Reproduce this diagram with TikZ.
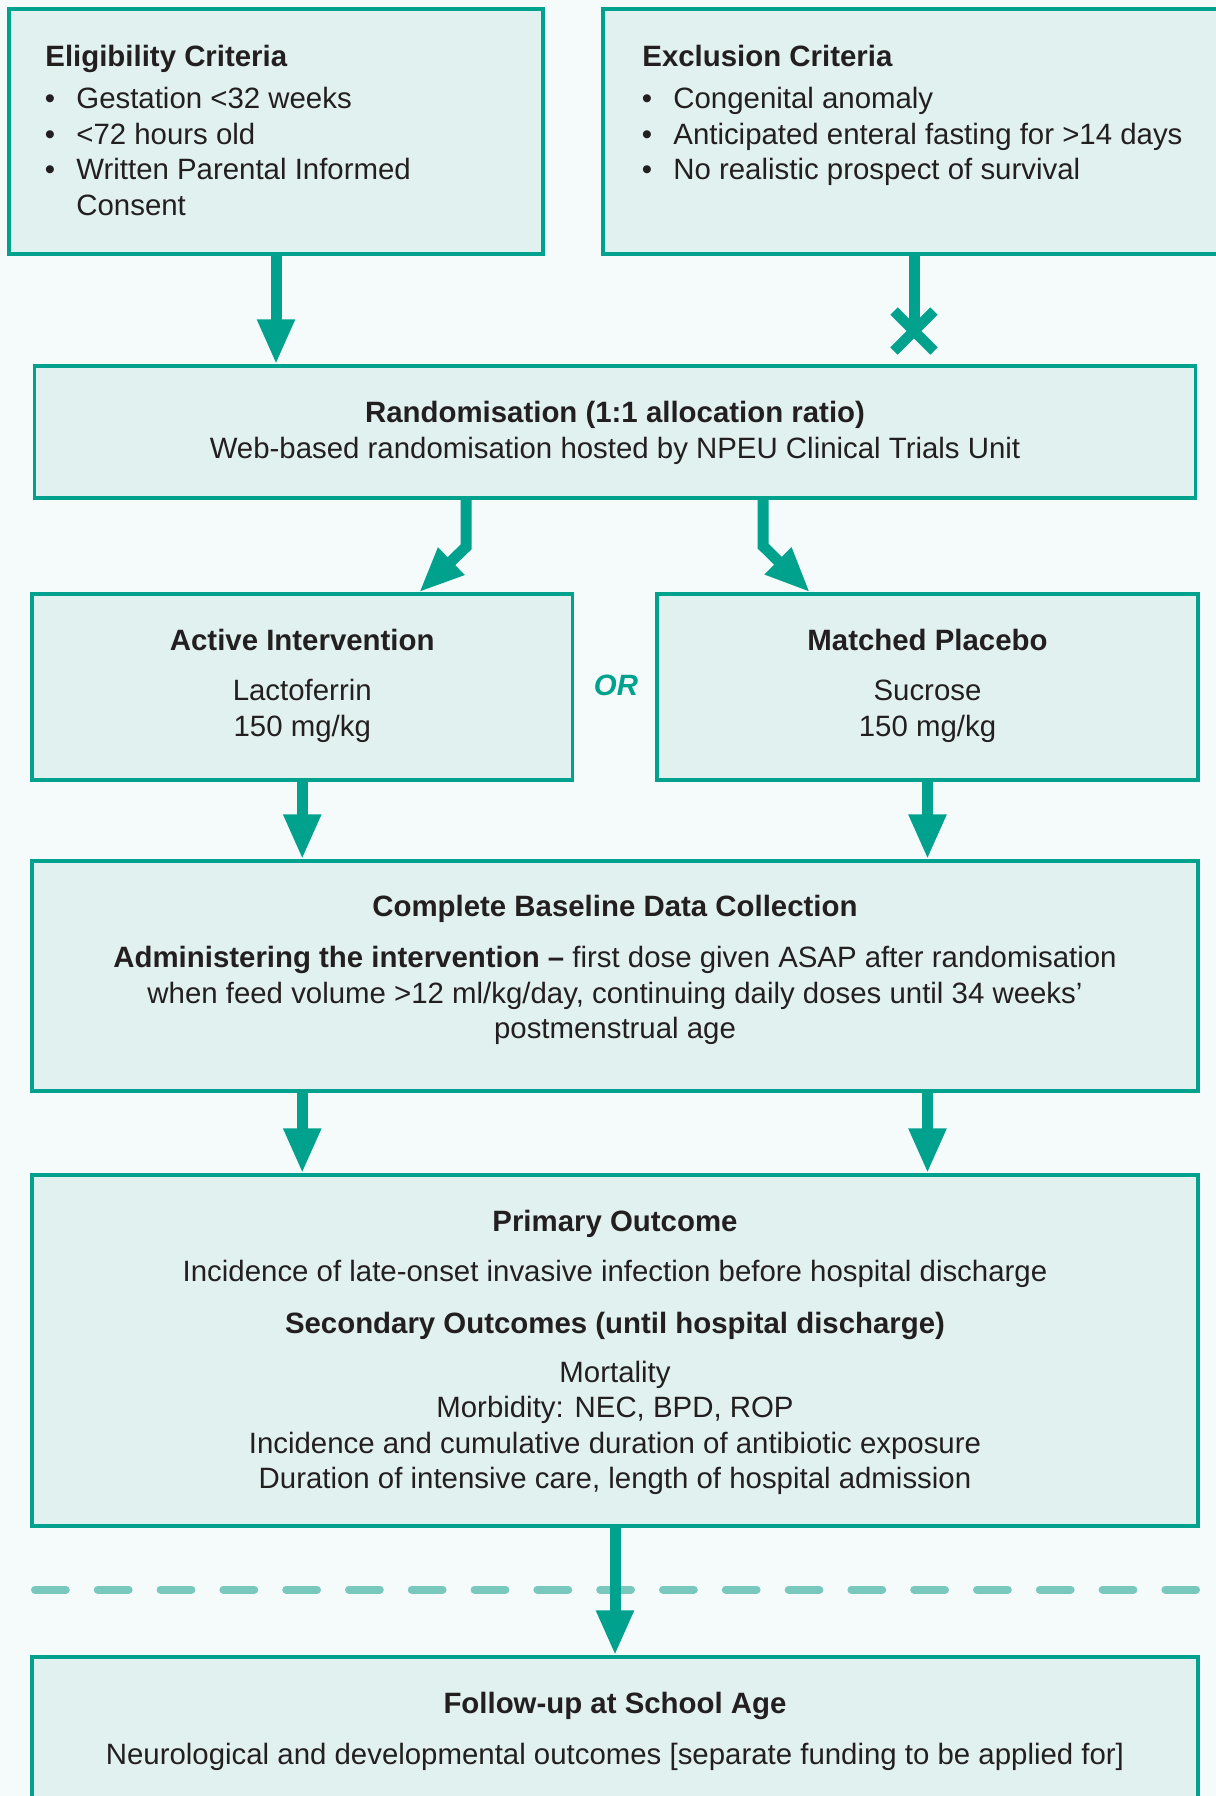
\documentclass[tikz,border=0pt]{standalone}
\usepackage{fontspec}
\setmainfont{Liberation Sans}
\usetikzlibrary{arrows.meta,calc}

\definecolor{npeuteal}{RGB}{0,162,142}
\definecolor{boxfill}{RGB}{225,241,239}
\definecolor{pagebg}{RGB}{245,251,251}
\definecolor{dashteal}{RGB}{120,200,190}
\definecolor{ink}{RGB}{35,31,32}

\begin{document}
\begin{tikzpicture}[
  x=0.5pt, y=-0.5pt,
  font={\fontsize{14.7}{17.75}\selectfont},
  stagebox/.style={draw=npeuteal, fill=boxfill, line width=1.65pt, inner sep=0pt},
  stagetext/.style={text=ink, inner sep=0pt, align=center, anchor=base},
  listtext/.style={text=ink, inner sep=0pt, anchor=base west},
  flowmap/.style={draw=npeuteal, line width=5.5pt, -{Triangle[length=22.5pt,width=17.5pt]}},
  blockmap/.style={draw=npeuteal, line width=5.5pt},
  crossmark/.style={draw=npeuteal, line width=5.2pt},
  cutline/.style={draw=dashteal, line width=4pt, line cap=round, dash pattern=on 15.4pt off 16pt}
]
  \useasboundingbox (0,0) rectangle (1216,1796);
  \fill[pagebg] (0,0) rectangle (1216,1796);

  \node[stagebox, minimum width=267pt, minimum height=122.5pt] (elig) at (276,131.5) {};
  \node[stagebox, minimum width=311pt, minimum height=122.5pt] (excl) at (914,131.5) {};
  \node[stagebox, minimum width=580.5pt, minimum height=66pt] (rand) at (615,432) {};
  \node[stagebox, minimum width=270.25pt, minimum height=93pt] (active) at (302.25,687) {};
  \node[stagebox, minimum width=270.5pt, minimum height=93pt] (placebo) at (927.5,687) {};
  \node[stagebox, minimum width=583pt, minimum height=115pt] (base) at (615,976) {};
  \node[stagebox, minimum width=583pt, minimum height=175.5pt] (outcome) at (615,1350.5) {};
  \node[stagebox, minimum width=583pt, minimum height=78pt] (followup) at (615,1735) {};

  \node[listtext] (eligtitle) at (45,66.5) {\textbf{Eligibility Criteria}};
  \node[listtext] (eligitems) at (44.5,108.5) {\begin{tabular}[t]{@{}l@{\hspace{10.6pt}}l@{}}
    • & Gestation <32 weeks\\
    • & <72 hours old\\
    • & Written Parental Informed\\
      & Consent
  \end{tabular}};
  \node[listtext] (excltitle) at (642,66.5) {\textbf{Exclusion Criteria}};
  \node[listtext] (exclitems) at (641.5,108.5) {\begin{tabular}[t]{@{}l@{\hspace{10.6pt}}l@{}}
    • & Congenital anomaly\\
    • & Anticipated enteral fasting for >14 days\\
    • & No realistic prospect of survival
  \end{tabular}};

  \node[stagetext] (randtext) at (615,458) {\textbf{Randomisation (1:1 allocation ratio)}\\Web-based randomisation hosted by NPEU Clinical Trials Unit};
  \node[stagetext] (activetext) at (302.25,736.2) {\textbf{Active Intervention}\\[7.5pt]Lactoferrin\\150 mg/kg};
  \node[stagetext] (placebotext) at (927.5,736.2) {\textbf{Matched Placebo}\\[7.5pt]Sucrose\\150 mg/kg};
  \node[text=npeuteal, inner sep=0pt, font={\fontsize{14.7}{17.75}\selectfont\bfseries\itshape}] (ortag) at (616,685) {OR};
  \node[stagetext] (basetext) at (615,1038.5) {\textbf{Complete Baseline Data Collection}\\[8pt]\textbf{Administering the intervention –} first dose given ASAP after randomisation\\when feed volume >12 ml/kg/day, continuing daily doses until 34 weeks’\\postmenstrual age};
  \node[stagetext] (outcometext) at (615,1488.6) {\textbf{Primary Outcome}\\[7.5pt]Incidence of late-onset invasive infection before hospital discharge\\[8pt]\textbf{Secondary Outcomes (until hospital discharge)}\\[6.8pt]Mortality\\Morbidity: NEC, BPD, ROP\\Incidence and cumulative duration of antibiotic exposure\\Duration of intensive care, length of hospital admission};
  \node[stagetext] (followtext) at (615,1764.4) {\textbf{Follow-up at School Age}\\[7.5pt]Neurological and developmental outcomes [separate funding to be applied for]};

  \draw[flowmap] (elig.south) -- (elig.south |- rand.north);
  \coordinate (xmark) at (914,331);
  \draw[blockmap] (excl.south) -- (xmark);
  \draw[crossmark] ([shift={(-20,-20)}]xmark) -- ([shift={(20,20)}]xmark);
  \draw[crossmark] ([shift={(-20,20)}]xmark) -- ([shift={(20,-20)}]xmark);

  \coordinate (lsplit) at (466,547);
  \coordinate (rsplit) at (763,546);
  \coordinate (lhit) at (419,0);
  \coordinate (rhit) at (810,0);
  \draw[flowmap] (rand.south -| lsplit) -- (lsplit) -- (active.north -| lhit);
  \draw[flowmap] (rand.south -| rsplit) -- (rsplit) -- (placebo.north -| rhit);

  \draw[flowmap] (active.south) -- (active.south |- base.north);
  \draw[flowmap] (placebo.south) -- (placebo.south |- base.north);
  \draw[flowmap] (base.south -| active) -- (outcome.north -| active);
  \draw[flowmap] (base.south -| placebo) -- (outcome.north -| placebo);

  \draw[cutline] (35,1589.5) -- (1196,1589.5);
  \draw[flowmap] (outcome.south) -- (followup.north);
\end{tikzpicture}
\end{document}
